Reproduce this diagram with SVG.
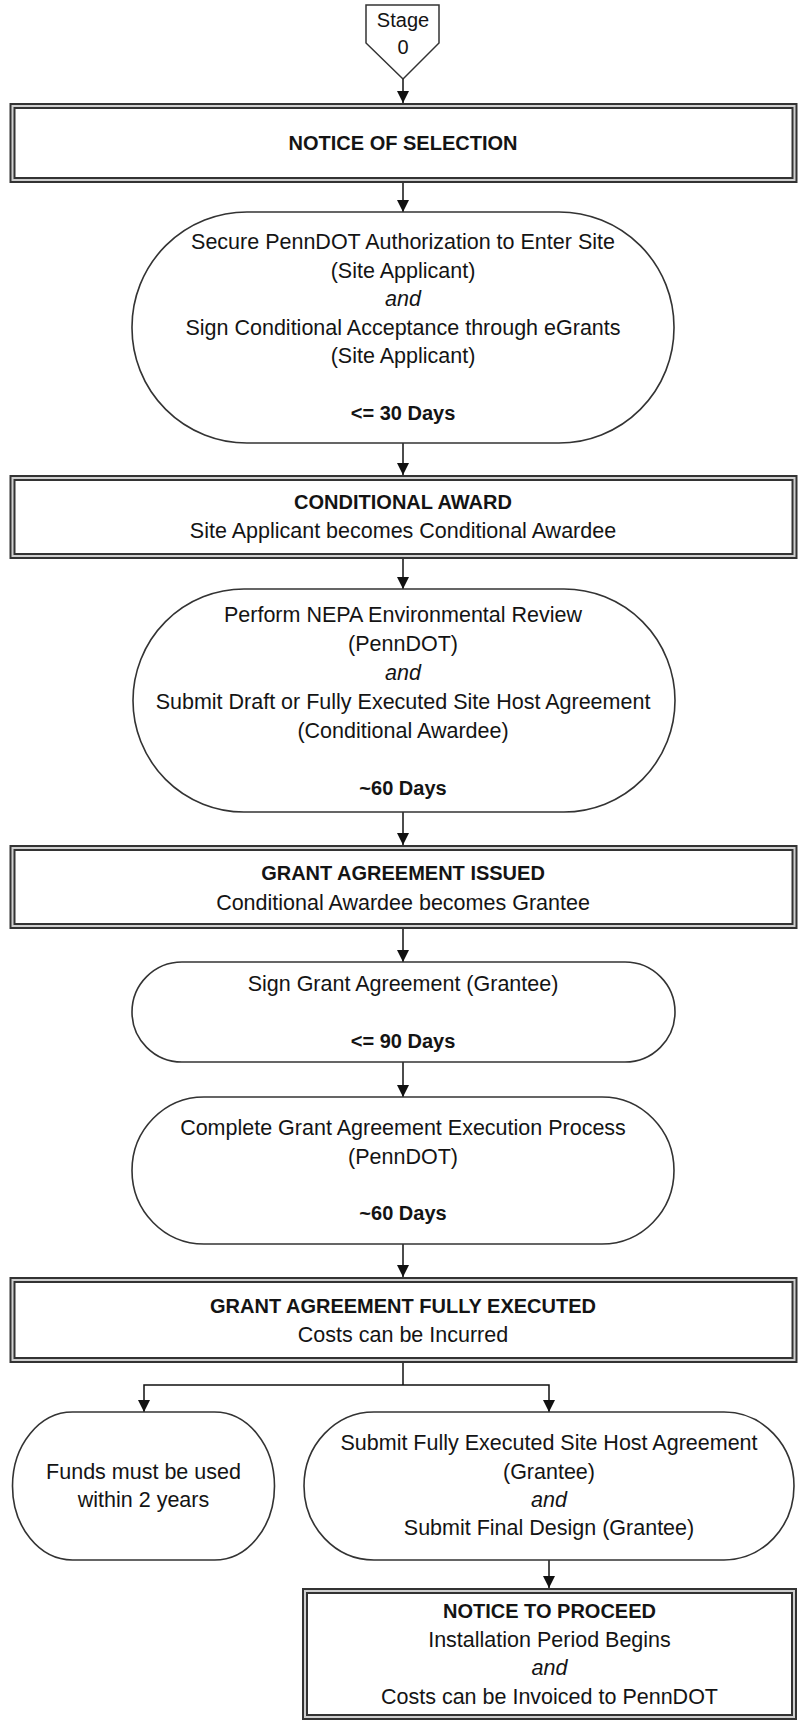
<svg xmlns="http://www.w3.org/2000/svg" width="799" height="1721" viewBox="0 0 799 1721">
<defs>
<marker id="ah" markerUnits="userSpaceOnUse" markerWidth="12" markerHeight="12" viewBox="0 0 12 12" refX="12" refY="6" orient="auto">
<path d="M0,0 L12,6 L0,12 z" fill="#111"/>
</marker>
</defs>
<style>
text{font-family:"Liberation Sans",Arial,sans-serif;fill:#141414;text-anchor:middle}
.t{font-size:21.5px}
.b{font-size:20px;font-weight:bold}
.i{font-size:21.5px;font-style:italic}
.s{font-size:20px}
.o{fill:none;stroke:#333;stroke-width:6}
.g{fill:none;stroke:#cfcfcf;stroke-width:2}
.e{fill:#fff;stroke:#333;stroke-width:1.6}
.c{fill:none;stroke:#111;stroke-width:1.5}
</style>
<rect width="799" height="1721" fill="#fff"/>
<g id="connectors">
<path class="c" d="M403,79 V103" marker-end="url(#ah)"/>
<path class="c" d="M403,183 V212" marker-end="url(#ah)"/>
<path class="c" d="M403,443 V475" marker-end="url(#ah)"/>
<path class="c" d="M403,559 V589" marker-end="url(#ah)"/>
<path class="c" d="M403,812 V845" marker-end="url(#ah)"/>
<path class="c" d="M403,929 V962" marker-end="url(#ah)"/>
<path class="c" d="M403,1062 V1097" marker-end="url(#ah)"/>
<path class="c" d="M403,1244 V1277" marker-end="url(#ah)"/>
<path class="c" d="M403,1363 V1385"/>
<path class="c" d="M403,1385 H144 V1412" marker-end="url(#ah)"/>
<path class="c" d="M403,1385 H549 V1412" marker-end="url(#ah)"/>
<path class="c" d="M549,1560 V1588" marker-end="url(#ah)"/>
</g>
<g id="stage0">
<path d="M366,5 H439 V43 L403,79 L366,43 Z" fill="#fff" stroke="#333" stroke-width="1.5"/>
<text class="s" x="403" y="27">Stage</text>
<text class="s" x="403" y="54">0</text>
</g>
<g id="notice-selection">
<rect class="o" x="12.5" y="106" width="782" height="74" fill="#fff"/>
<rect class="g" x="12.5" y="106" width="782" height="74"/>
<text class="b" x="403" y="150">NOTICE OF SELECTION</text>
</g>
<g id="secure-authorization">
<rect class="e" x="132" y="212" width="542" height="231" rx="115" ry="115"/>
<text class="t" x="403" y="249">Secure PennDOT Authorization to Enter Site</text>
<text class="t" x="403" y="277.5">(Site Applicant)</text>
<text class="i" x="403" y="306">and</text>
<text class="t" x="403" y="334.5">Sign Conditional Acceptance through eGrants</text>
<text class="t" x="403" y="363">(Site Applicant)</text>
<text class="b" x="403" y="420">&lt;= 30 Days</text>
</g>
<g id="conditional-award">
<rect class="o" x="12.5" y="478" width="782" height="78" fill="#fff"/>
<rect class="g" x="12.5" y="478" width="782" height="78"/>
<text class="b" x="403" y="509">CONDITIONAL AWARD</text>
<text class="t" x="403" y="538">Site Applicant becomes Conditional Awardee</text>
</g>
<g id="nepa-review">
<rect class="e" x="133" y="589" width="542" height="223" rx="111" ry="111.5"/>
<text class="t" x="403" y="622">Perform NEPA Environmental Review</text>
<text class="t" x="403" y="651">(PennDOT)</text>
<text class="i" x="403" y="680">and</text>
<text class="t" x="403" y="709">Submit Draft or Fully Executed Site Host Agreement</text>
<text class="t" x="403" y="738">(Conditional Awardee)</text>
<text class="b" x="403" y="795">~60 Days</text>
</g>
<g id="grant-issued">
<rect class="o" x="12.5" y="848" width="782" height="78" fill="#fff"/>
<rect class="g" x="12.5" y="848" width="782" height="78"/>
<text class="b" x="403" y="880">GRANT AGREEMENT ISSUED</text>
<text class="t" x="403" y="910">Conditional Awardee becomes Grantee</text>
</g>
<g id="sign-grant">
<rect class="e" x="132" y="962" width="543" height="100" rx="50" ry="50"/>
<text class="t" x="403" y="991">Sign Grant Agreement (Grantee)</text>
<text class="b" x="403" y="1048">&lt;= 90 Days</text>
</g>
<g id="complete-execution">
<rect class="e" x="132" y="1097" width="542" height="147" rx="72" ry="73.5"/>
<text class="t" x="403" y="1135">Complete Grant Agreement Execution Process</text>
<text class="t" x="403" y="1164">(PennDOT)</text>
<text class="b" x="403" y="1220">~60 Days</text>
</g>
<g id="grant-fully-executed">
<rect class="o" x="12.5" y="1280" width="782" height="80" fill="#fff"/>
<rect class="g" x="12.5" y="1280" width="782" height="80"/>
<text class="b" x="403" y="1313">GRANT AGREEMENT FULLY EXECUTED</text>
<text class="t" x="403" y="1342">Costs can be Incurred</text>
</g>
<g id="funds-2-years">
<rect class="e" x="12.5" y="1412" width="262" height="148" rx="60" ry="74"/>
<text class="t" x="143.5" y="1479">Funds must be used</text>
<text class="t" x="143.5" y="1507">within 2 years</text>
</g>
<g id="submit-final">
<rect class="e" x="304" y="1412" width="490" height="148" rx="70" ry="74"/>
<text class="t" x="549" y="1450">Submit Fully Executed Site Host Agreement</text>
<text class="t" x="549" y="1479">(Grantee)</text>
<text class="i" x="549" y="1507">and</text>
<text class="t" x="549" y="1535">Submit Final Design (Grantee)</text>
</g>
<g id="notice-to-proceed">
<rect class="o" x="305" y="1591" width="489" height="126" fill="#fff"/>
<rect class="g" x="305" y="1591" width="489" height="126"/>
<text class="b" x="549.5" y="1618">NOTICE TO PROCEED</text>
<text class="t" x="549.5" y="1647">Installation Period Begins</text>
<text class="i" x="549.5" y="1675">and</text>
<text class="t" x="549.5" y="1704">Costs can be Invoiced to PennDOT</text>
</g>
</svg>
